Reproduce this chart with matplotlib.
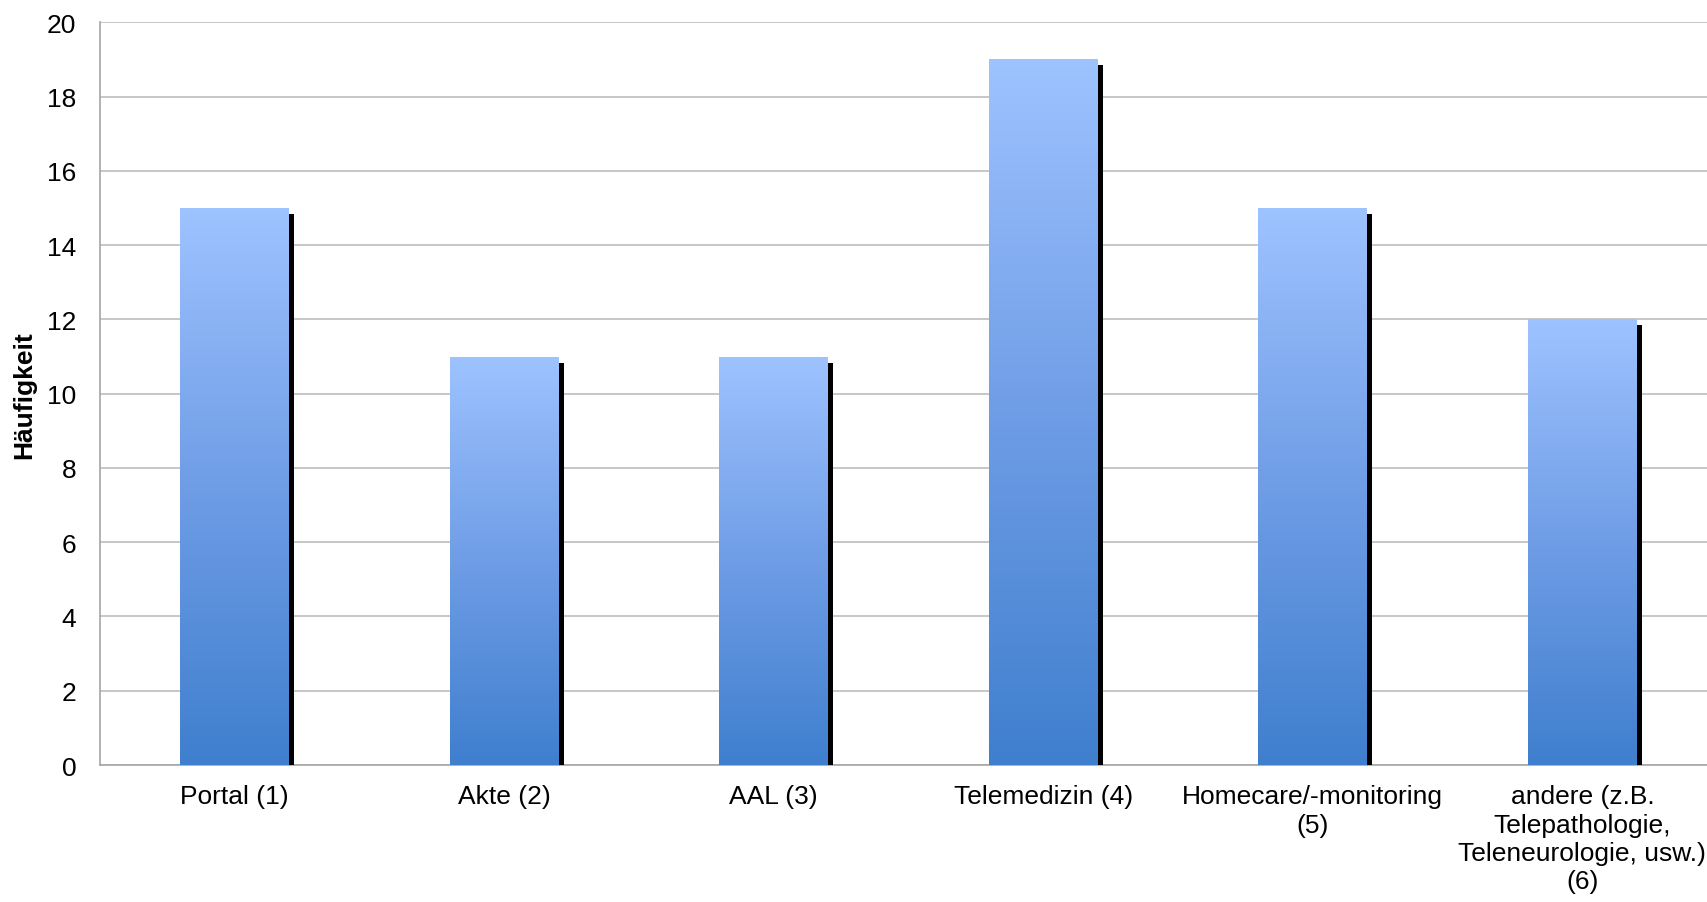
import numpy as np
import matplotlib
matplotlib.use("Agg")
import matplotlib.pyplot as plt
from matplotlib.colors import LinearSegmentedColormap
from matplotlib.transforms import ScaledTranslation

categories = ["Portal (1)", "Akte (2)", "AAL (3)", "Telemedizin (4)",
              "Homecare/-monitoring\n(5)",
              "andere (z.B.\nTelepathologie,\nTeleneurologie, usw.)\n(6)"]
values = [15, 11, 11, 19, 15, 12]
y_ticks = [0, 2, 4, 6, 8, 10, 12, 14, 16, 18, 20]
y_label = "Häufigkeit"

plt.rcParams['font.family'] = ['Liberation Sans', 'DejaVu Sans']

fig = plt.figure(figsize=(17.08, 9.03), dpi=100)
ax = fig.add_axes([0.0584, 0.1517, 0.9470, 0.8225])

cmap = LinearSegmentedColormap.from_list(
    "grad", [(0.0, "#3F7FCE"), (0.5, "#6F9DE6"), (1.0, "#9EC3FF")])
grad = np.linspace(1, 0, 256).reshape(-1, 1)

x = np.arange(len(categories))
width = 0.404
shadow_tr = ax.transData + ScaledTranslation(5 / 100, -6 / 100, fig.dpi_scale_trans)

bars = ax.bar(x, values, width, color="none", edgecolor="none", zorder=4)
ax.bar(x, values, width, color="black", edgecolor="none", zorder=3,
       transform=shadow_tr)
for xi, v, b in zip(x, values, bars):
    im = ax.imshow(grad, cmap=cmap, aspect="auto", zorder=4,
                   extent=[xi - width / 2, xi + width / 2, 0, v],
                   interpolation="bilinear")
    im.set_clip_path(b)

ax.set_xlim(-0.5, len(categories) - 0.5)
ax.set_ylim(0, 20)
ax.set_yticks(y_ticks)
ax.set_xticks(x)
ax.set_xticklabels(categories, linespacing=1.22)
ax.tick_params(axis="both", length=0, labelsize=19, colors="black")
ax.tick_params(axis="x", pad=14)
ax.tick_params(axis="y", pad=17)
ax.yaxis.grid(True, color="#BEBEBE", linewidth=1.2)
ax.set_axisbelow(True)
for s in ["top", "right"]:
    ax.spines[s].set_visible(False)
for s in ["left", "bottom"]:
    ax.spines[s].set_color("#A6A6A6")
    ax.spines[s].set_linewidth(1.2)
ax.set_ylabel(y_label, fontsize=19, fontweight="bold")
ax.yaxis.set_label_coords(-0.039, 0.5)

fig.savefig("out.png", dpi=100)
